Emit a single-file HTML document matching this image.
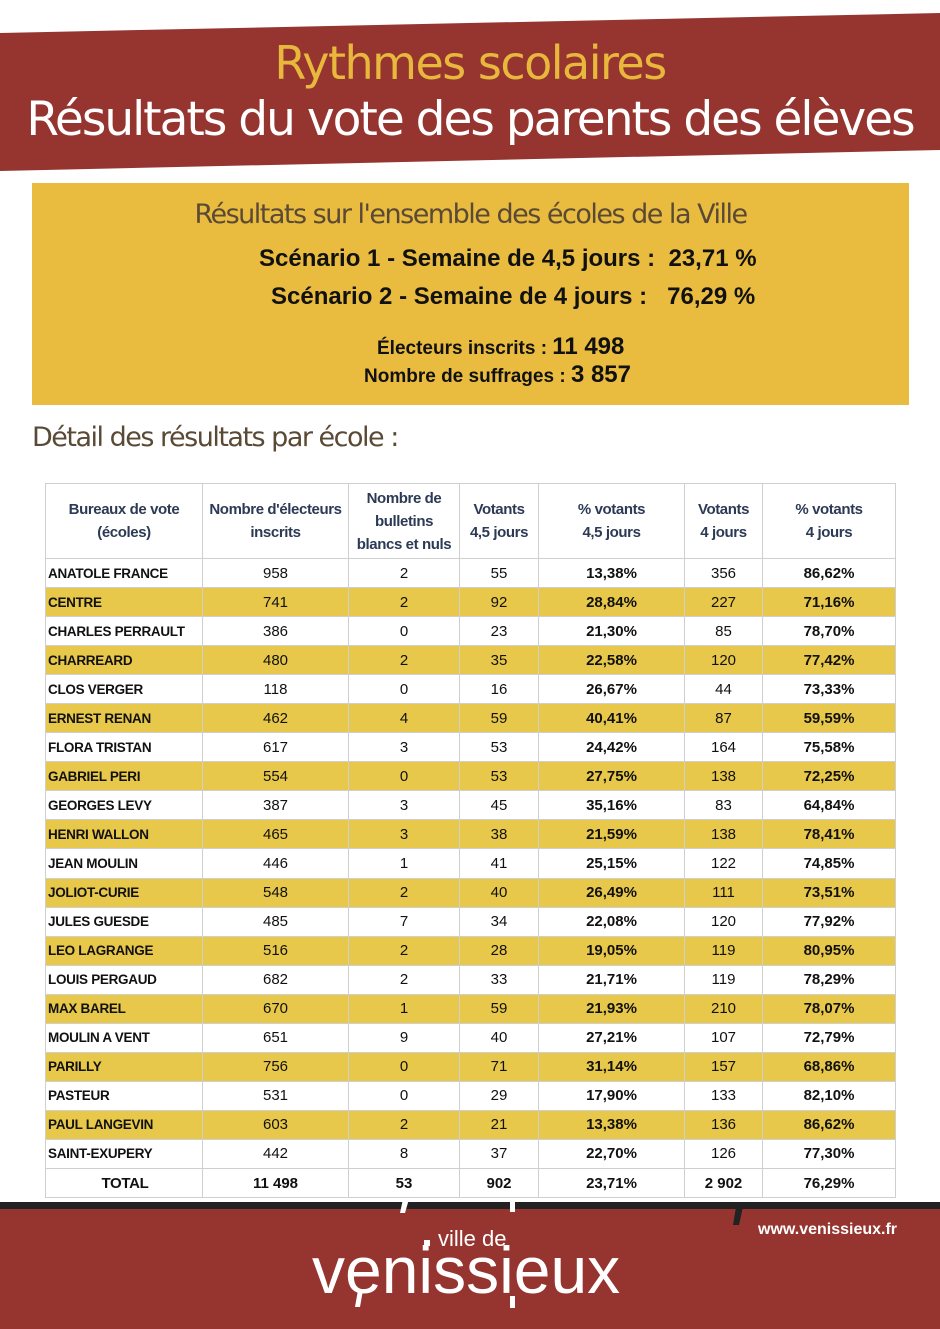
<!DOCTYPE html>
<html><head><meta charset="utf-8"><style>
*{margin:0;padding:0;box-sizing:border-box}
body{width:940px;height:1329px;background:#fff;position:relative;overflow:hidden;font-family:"Liberation Sans",sans-serif}
.abs{position:absolute}
.t1{left:0;width:940px;text-align:center;top:36px;font-size:46px;color:#e8b83c;font-family:"DejaVu Sans","Liberation Sans",sans-serif;letter-spacing:-1.5px}
.t2{left:0;width:940px;text-align:center;top:92px;font-size:47px;color:#fff;font-family:"DejaVu Sans","Liberation Sans",sans-serif;letter-spacing:-2px}
.box{left:32px;top:183px;width:877px;height:222px;background:#e9bb3e}
.box div{position:absolute;white-space:nowrap;font-weight:bold;color:#111}
table{position:absolute;left:45px;top:483px;border-collapse:collapse;font-size:15px;color:#111}
td{border:1.5px solid #cfcfcf;height:29.05px;text-align:center;padding:0}
td:first-child{text-align:left;padding-left:2px;font-weight:bold;font-size:13.5px;letter-spacing:-0.3px}
td:nth-child(5),td:nth-child(7){font-weight:bold}
tr.h td{height:75px;font-weight:bold;color:#2c3a55;font-size:15px;text-align:center;padding:0;line-height:23px;white-space:nowrap;letter-spacing:-0.4px}
tr.y td{background:#e8c84a}
tr.tot td{font-weight:bold}
tr.tot td:first-child{text-align:center;font-size:15px}
</style></head><body>
<svg class="abs" style="left:0;top:0" width="940" height="1329">
<polygon points="0,33 940,13 940,150 0,171" fill="#963530"/>
<rect x="0" y="1202" width="940" height="8" fill="#222"/>
<rect x="0" y="1209" width="940" height="120" fill="#963530"/>
<polygon points="403,1199 409,1199 405,1213 400,1213" fill="#fff"/>
<rect x="510" y="1200" width="5" height="12" fill="#fff"/>
<polygon points="736,1207 743,1207 739,1225 733,1225" fill="#222"/>
<rect x="424" y="1240" width="6" height="6" fill="#fff"/>
<polygon points="358,1290 363,1290 360,1307 355,1307" fill="#fff"/>
<rect x="510" y="1296" width="5" height="12" fill="#fff"/>
</svg>
<div class="abs t1">Rythmes scolaires</div>
<div class="abs t2">Résultats du vote des parents des élèves</div>
<div class="abs box">
<div style="left:0;width:877px;text-align:center;top:16px;font-size:27px;font-weight:normal;color:#5a4a35;font-family:'DejaVu Sans',sans-serif;letter-spacing:-1.5px">Résultats sur l'ensemble des écoles de la Ville</div>
<div style="left:227px;top:62px;font-size:24px">Scénario 1 - Semaine de 4,5 jours :&nbsp; 23,71 %</div>
<div style="left:239px;top:100px;font-size:24px">Scénario 2 - Semaine de 4 jours :&nbsp;&nbsp; 76,29 %</div>
<div style="left:345px;top:150px;font-size:19px">Électeurs inscrits : <span style="font-size:24px">11 498</span></div>
<div style="left:332px;top:178px;font-size:19px">Nombre de suffrages : <span style="font-size:24px">3 857</span></div>
</div>
<div class="abs" style="left:32px;top:422px;font-size:27px;color:#5a4a35;font-family:'DejaVu Sans',sans-serif;letter-spacing:-1.5px">Détail des résultats par école :</div>
<table>
<colgroup><col style="width:157px"><col style="width:146px"><col style="width:111px"><col style="width:79px"><col style="width:146px"><col style="width:78px"><col style="width:133px"></colgroup>
<tr class="h"><td>Bureaux de vote<br>(écoles)</td><td>Nombre d'électeurs<br>inscrits</td><td>Nombre de<br>bulletins<br>blancs et nuls</td><td>Votants<br>4,5 jours</td><td>% votants<br>4,5 jours</td><td>Votants<br>4 jours</td><td>% votants<br>4 jours</td></tr>
<tr><td>ANATOLE FRANCE</td><td>958</td><td>2</td><td>55</td><td>13,38%</td><td>356</td><td>86,62%</td></tr>
<tr class="y"><td>CENTRE</td><td>741</td><td>2</td><td>92</td><td>28,84%</td><td>227</td><td>71,16%</td></tr>
<tr><td>CHARLES PERRAULT</td><td>386</td><td>0</td><td>23</td><td>21,30%</td><td>85</td><td>78,70%</td></tr>
<tr class="y"><td>CHARREARD</td><td>480</td><td>2</td><td>35</td><td>22,58%</td><td>120</td><td>77,42%</td></tr>
<tr><td>CLOS VERGER</td><td>118</td><td>0</td><td>16</td><td>26,67%</td><td>44</td><td>73,33%</td></tr>
<tr class="y"><td>ERNEST RENAN</td><td>462</td><td>4</td><td>59</td><td>40,41%</td><td>87</td><td>59,59%</td></tr>
<tr><td>FLORA TRISTAN</td><td>617</td><td>3</td><td>53</td><td>24,42%</td><td>164</td><td>75,58%</td></tr>
<tr class="y"><td>GABRIEL PERI</td><td>554</td><td>0</td><td>53</td><td>27,75%</td><td>138</td><td>72,25%</td></tr>
<tr><td>GEORGES LEVY</td><td>387</td><td>3</td><td>45</td><td>35,16%</td><td>83</td><td>64,84%</td></tr>
<tr class="y"><td>HENRI WALLON</td><td>465</td><td>3</td><td>38</td><td>21,59%</td><td>138</td><td>78,41%</td></tr>
<tr><td>JEAN MOULIN</td><td>446</td><td>1</td><td>41</td><td>25,15%</td><td>122</td><td>74,85%</td></tr>
<tr class="y"><td>JOLIOT-CURIE</td><td>548</td><td>2</td><td>40</td><td>26,49%</td><td>111</td><td>73,51%</td></tr>
<tr><td>JULES GUESDE</td><td>485</td><td>7</td><td>34</td><td>22,08%</td><td>120</td><td>77,92%</td></tr>
<tr class="y"><td>LEO LAGRANGE</td><td>516</td><td>2</td><td>28</td><td>19,05%</td><td>119</td><td>80,95%</td></tr>
<tr><td>LOUIS PERGAUD</td><td>682</td><td>2</td><td>33</td><td>21,71%</td><td>119</td><td>78,29%</td></tr>
<tr class="y"><td>MAX BAREL</td><td>670</td><td>1</td><td>59</td><td>21,93%</td><td>210</td><td>78,07%</td></tr>
<tr><td>MOULIN A VENT</td><td>651</td><td>9</td><td>40</td><td>27,21%</td><td>107</td><td>72,79%</td></tr>
<tr class="y"><td>PARILLY</td><td>756</td><td>0</td><td>71</td><td>31,14%</td><td>157</td><td>68,86%</td></tr>
<tr><td>PASTEUR</td><td>531</td><td>0</td><td>29</td><td>17,90%</td><td>133</td><td>82,10%</td></tr>
<tr class="y"><td>PAUL LANGEVIN</td><td>603</td><td>2</td><td>21</td><td>13,38%</td><td>136</td><td>86,62%</td></tr>
<tr><td>SAINT-EXUPERY</td><td>442</td><td>8</td><td>37</td><td>22,70%</td><td>126</td><td>77,30%</td></tr>
<tr class="tot"><td>TOTAL</td><td>11 498</td><td>53</td><td>902</td><td>23,71%</td><td>2 902</td><td>76,29%</td></tr>
</table>
<div class="abs" style="left:438px;top:1226px;font-size:22px;color:#fff">ville de</div>
<div class="abs" style="left:312px;top:1232px;font-size:66px;color:#fff;letter-spacing:0px">venissieux</div>
<div class="abs" style="left:758px;top:1221px;font-size:16px;color:#fff;font-weight:bold">www.venissieux.fr</div>
</body></html>
